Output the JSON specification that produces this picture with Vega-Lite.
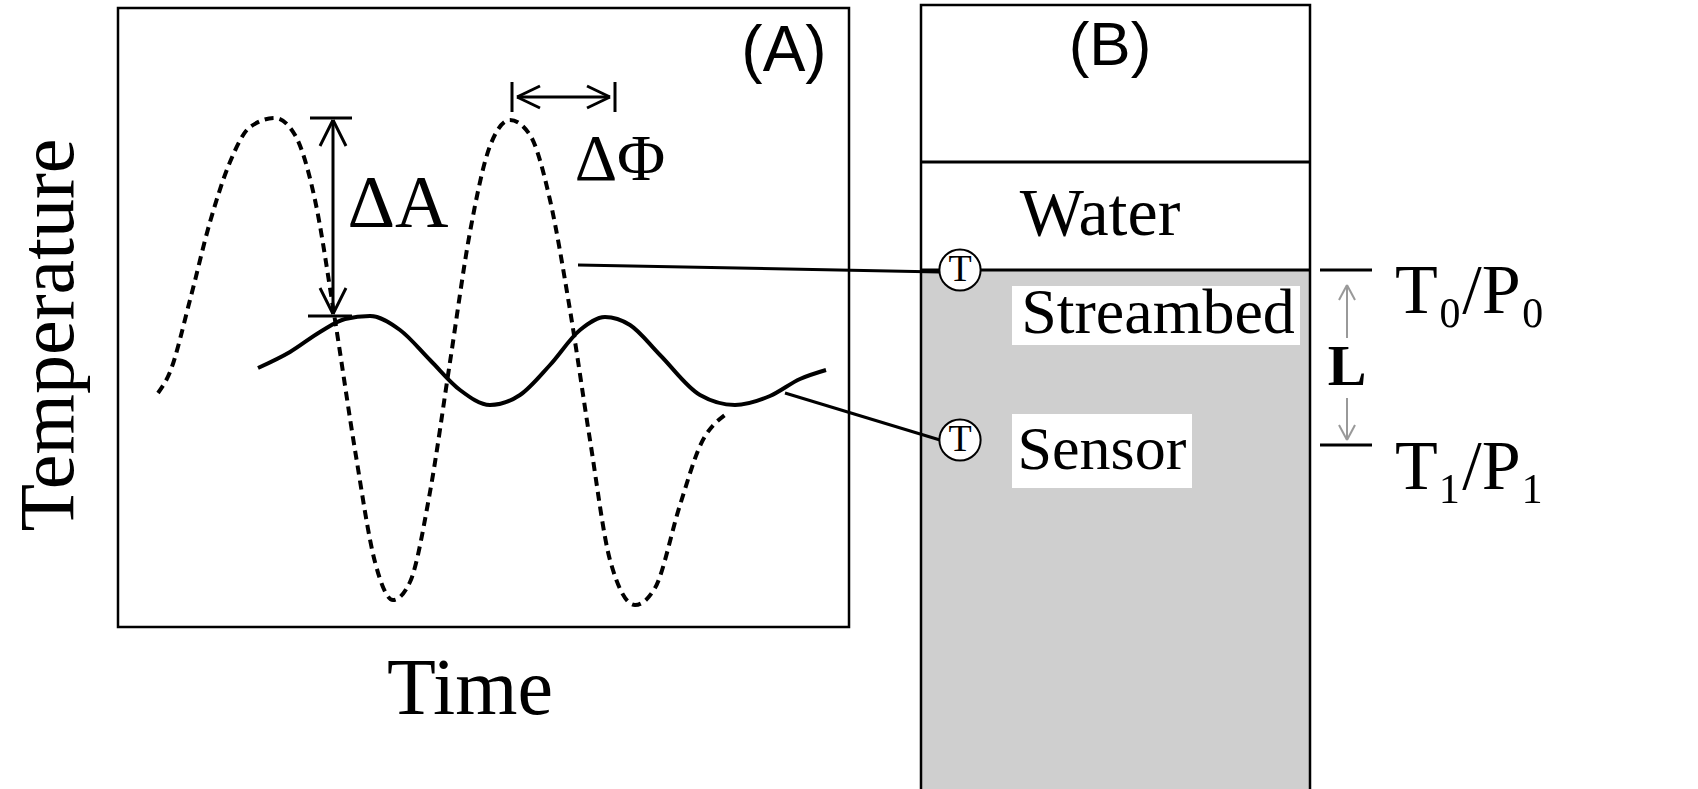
{
  "$schema": "https://vega.github.io/schema/vega-lite/v6.json",
  "width": 1698,
  "height": 789,
  "autosize": {"type": "fit", "contains": "padding"},
  "padding": 0,
  "config": {"background": "white", "view": {"stroke": null}},
  "datasets": {
    "fills": [
      {"x": 921, "y": 270, "x2": 1310, "y2": 800}
    ],
    "labelbg": [
      {"x": 1012, "y": 286, "x2": 1300, "y2": 345},
      {"x": 1012, "y": 414, "x2": 1192, "y2": 488}
    ],
    "frames": [
      {"x": 118, "y": 8, "x2": 849, "y2": 627},
      {"x": 921, "y": 5, "x2": 1310, "y2": 800}
    ],
    "dashed": [
      {"x": 158, "y": 393}, {"x": 170, "y": 372}, {"x": 190, "y": 300}, {"x": 210, "y": 222},
      {"x": 230, "y": 162}, {"x": 250, "y": 127}, {"x": 275, "y": 118}, {"x": 295, "y": 135},
      {"x": 315, "y": 200}, {"x": 335, "y": 320}, {"x": 355, "y": 450}, {"x": 375, "y": 562},
      {"x": 393, "y": 600}, {"x": 410, "y": 582}, {"x": 430, "y": 492}, {"x": 450, "y": 362},
      {"x": 470, "y": 232}, {"x": 490, "y": 146}, {"x": 510, "y": 120}, {"x": 530, "y": 135},
      {"x": 550, "y": 200}, {"x": 570, "y": 310}, {"x": 590, "y": 440}, {"x": 610, "y": 560},
      {"x": 635, "y": 605}, {"x": 655, "y": 588}, {"x": 680, "y": 505}, {"x": 700, "y": 446},
      {"x": 725, "y": 415}
    ],
    "solid": [
      {"x": 258, "y": 368}, {"x": 290, "y": 352}, {"x": 320, "y": 332}, {"x": 345, "y": 319},
      {"x": 370, "y": 316}, {"x": 400, "y": 330}, {"x": 430, "y": 360}, {"x": 460, "y": 390},
      {"x": 490, "y": 405}, {"x": 520, "y": 395}, {"x": 550, "y": 365}, {"x": 580, "y": 330},
      {"x": 605, "y": 317}, {"x": 630, "y": 325}, {"x": 660, "y": 355}, {"x": 700, "y": 395},
      {"x": 735, "y": 405}, {"x": 770, "y": 396}, {"x": 800, "y": 379}, {"x": 826, "y": 370}
    ],
    "segs": [
      {"x": 921, "y": 162, "x2": 1310, "y2": 162},
      {"x": 921, "y": 270, "x2": 1310, "y2": 270},
      {"x": 333, "y": 120, "x2": 333, "y2": 314},
      {"x": 310, "y": 118, "x2": 352, "y2": 118},
      {"x": 308, "y": 316, "x2": 352, "y2": 316},
      {"x": 333, "y": 120, "x2": 320, "y2": 146},
      {"x": 333, "y": 120, "x2": 346, "y2": 146},
      {"x": 333, "y": 314, "x2": 320, "y2": 288},
      {"x": 333, "y": 314, "x2": 346, "y2": 288},
      {"x": 512, "y": 82, "x2": 512, "y2": 112},
      {"x": 615, "y": 82, "x2": 615, "y2": 112},
      {"x": 517, "y": 97, "x2": 610, "y2": 97},
      {"x": 517, "y": 97, "x2": 540, "y2": 86},
      {"x": 517, "y": 97, "x2": 540, "y2": 108},
      {"x": 610, "y": 97, "x2": 587, "y2": 86},
      {"x": 610, "y": 97, "x2": 587, "y2": 108},
      {"x": 578, "y": 265, "x2": 940, "y2": 272},
      {"x": 785, "y": 393, "x2": 940, "y2": 440},
      {"x": 1320, "y": 270, "x2": 1372, "y2": 270},
      {"x": 1320, "y": 445, "x2": 1372, "y2": 445}
    ],
    "graysegs": [
      {"x": 1347, "y": 285, "x2": 1347, "y2": 338},
      {"x": 1347, "y": 285, "x2": 1339, "y2": 300},
      {"x": 1347, "y": 285, "x2": 1355, "y2": 300},
      {"x": 1347, "y": 398, "x2": 1347, "y2": 440},
      {"x": 1347, "y": 440, "x2": 1339, "y2": 425},
      {"x": 1347, "y": 440, "x2": 1355, "y2": 425}
    ],
    "circles": [
      {"x": 960, "y": 270, "t": "T"},
      {"x": 960, "y": 440, "t": "T"}
    ],
    "serif": [
      {"x": 398, "y": 205, "t": "ΔA", "s": 74},
      {"x": 620, "y": 160, "t": "ΔΦ", "s": 66},
      {"x": 1100, "y": 215, "t": "Water", "s": 68},
      {"x": 1158, "y": 314, "t": "Streambed", "s": 64},
      {"x": 1102, "y": 450, "t": "Sensor", "s": 62},
      {"x": 470, "y": 690, "t": "Time", "s": 80},
      {"x": 1470, "y": 292, "t": "T₀/P₀", "s": 70},
      {"x": 1470, "y": 468, "t": "T₁/P₁", "s": 70}
    ],
    "sans": [
      {"x": 784, "y": 52, "t": "(A)", "s": 64},
      {"x": 1110, "y": 46, "t": "(B)", "s": 62}
    ]
  },
  "encoding": {
    "x": {"field": "x", "type": "quantitative", "scale": {"domain": [0, 1698], "nice": false, "zero": false}, "axis": null},
    "y": {"field": "y", "type": "quantitative", "scale": {"domain": [0, 789], "nice": false, "zero": false, "reverse": true}, "axis": null}
  },
  "layer": [
    {"data": {"name": "fills"}, "mark": {"type": "rect", "fill": "#cfcfcf", "clip": true}, "encoding": {"x2": {"field": "x2"}, "y2": {"field": "y2"}}},
    {"data": {"name": "labelbg"}, "mark": {"type": "rect", "fill": "white"}, "encoding": {"x2": {"field": "x2"}, "y2": {"field": "y2"}}},
    {"data": {"name": "frames"}, "mark": {"type": "rect", "fill": null, "stroke": "black", "strokeWidth": 2.5, "clip": true}, "encoding": {"x2": {"field": "x2"}, "y2": {"field": "y2"}}},
    {"data": {"name": "dashed"}, "mark": {"type": "line", "color": "black", "strokeWidth": 4, "strokeDash": [9, 6], "interpolate": "monotone"}, "encoding": {}},
    {"data": {"name": "solid"}, "mark": {"type": "line", "color": "black", "strokeWidth": 4, "interpolate": "monotone"}, "encoding": {}},
    {"data": {"name": "segs"}, "mark": {"type": "rule", "color": "black", "strokeWidth": 3}, "encoding": {"x2": {"field": "x2"}, "y2": {"field": "y2"}}},
    {"data": {"name": "graysegs"}, "mark": {"type": "rule", "color": "#999999", "strokeWidth": 2}, "encoding": {"x2": {"field": "x2"}, "y2": {"field": "y2"}}},
    {"data": {"name": "circles"}, "mark": {"type": "point", "shape": "circle", "size": 1700, "fill": "white", "filled": true, "stroke": "black", "strokeWidth": 2, "opacity": 1}, "encoding": {}},
    {"data": {"name": "circles"}, "mark": {"type": "text", "font": "Liberation Serif", "fontSize": 38, "baseline": "middle", "align": "center"}, "encoding": {"text": {"field": "t"}}},
    {"data": {"name": "serif"}, "mark": {"type": "text", "font": "Liberation Serif", "baseline": "middle", "align": "center", "color": "black"}, "encoding": {"text": {"field": "t"}, "size": {"field": "s", "type": "quantitative", "scale": null}}},
    {"data": {"values": [{"x": 1347, "y": 368, "t": "L"}]}, "mark": {"type": "text", "font": "Liberation Serif", "fontSize": 58, "fontWeight": "bold", "baseline": "middle", "align": "center"}, "encoding": {"text": {"field": "t"}}},
    {"data": {"values": [{"x": 50, "y": 335, "t": "Temperature"}]}, "mark": {"type": "text", "font": "Liberation Serif", "fontSize": 78, "angle": 270, "baseline": "middle", "align": "center"}, "encoding": {"text": {"field": "t"}}},
    {"data": {"name": "sans"}, "mark": {"type": "text", "font": "Liberation Sans", "baseline": "middle", "align": "center"}, "encoding": {"text": {"field": "t"}, "size": {"field": "s", "type": "quantitative", "scale": null}}}
  ]
}
